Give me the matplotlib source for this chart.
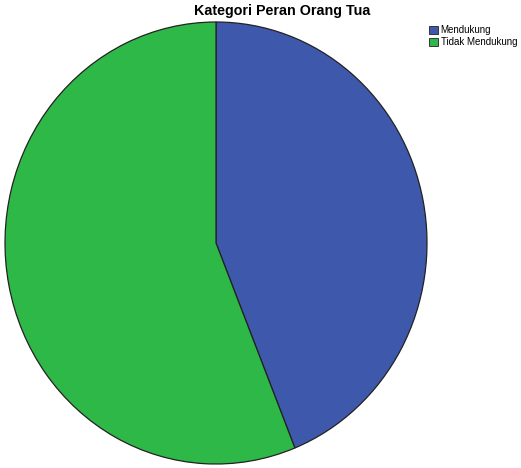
import matplotlib
matplotlib.use("Agg")
import matplotlib.pyplot as plt

labels = ["Mendukung", "Tidak Mendukung"]
values = [43.9, 56.1]
colors = ["#3E58AC", "#2EB848"]

W, H = 521, 468
fig = plt.figure(figsize=(W / 100, H / 100), dpi=100)
fig.patch.set_facecolor("white")

ax = fig.add_axes([5 / W, (H - 464) / H, 422 / W, 442 / H])
wedges, _ = ax.pie(values, colors=colors, startangle=90, counterclock=False,
                   wedgeprops=dict(edgecolor="#222222", linewidth=0.9))
ax.set_aspect("auto")
ax.set_xlim(-1.0, 1.0)
ax.set_ylim(-1.0, 1.0)
ax.axis("off")

fig.text(282 / W, 1 - 11 / H, "Kategori Peran Orang Tua", ha="center", va="center",
         fontsize=10.3, fontweight="bold", family="Liberation Sans")

leg = fig.legend(wedges, labels, loc="upper left", bbox_to_anchor=(427 / W, 1 - 23 / H),
                 frameon=False, prop={"family": "Liberation Sans", "size": 7},
                 handlelength=0.9, handleheight=0.9, handletextpad=0.3,
                 labelspacing=0.25, borderpad=0.2, borderaxespad=0)
for h in leg.legend_handles:
    h.set_linewidth(0.6)

fig.savefig("out.png", dpi=100)
